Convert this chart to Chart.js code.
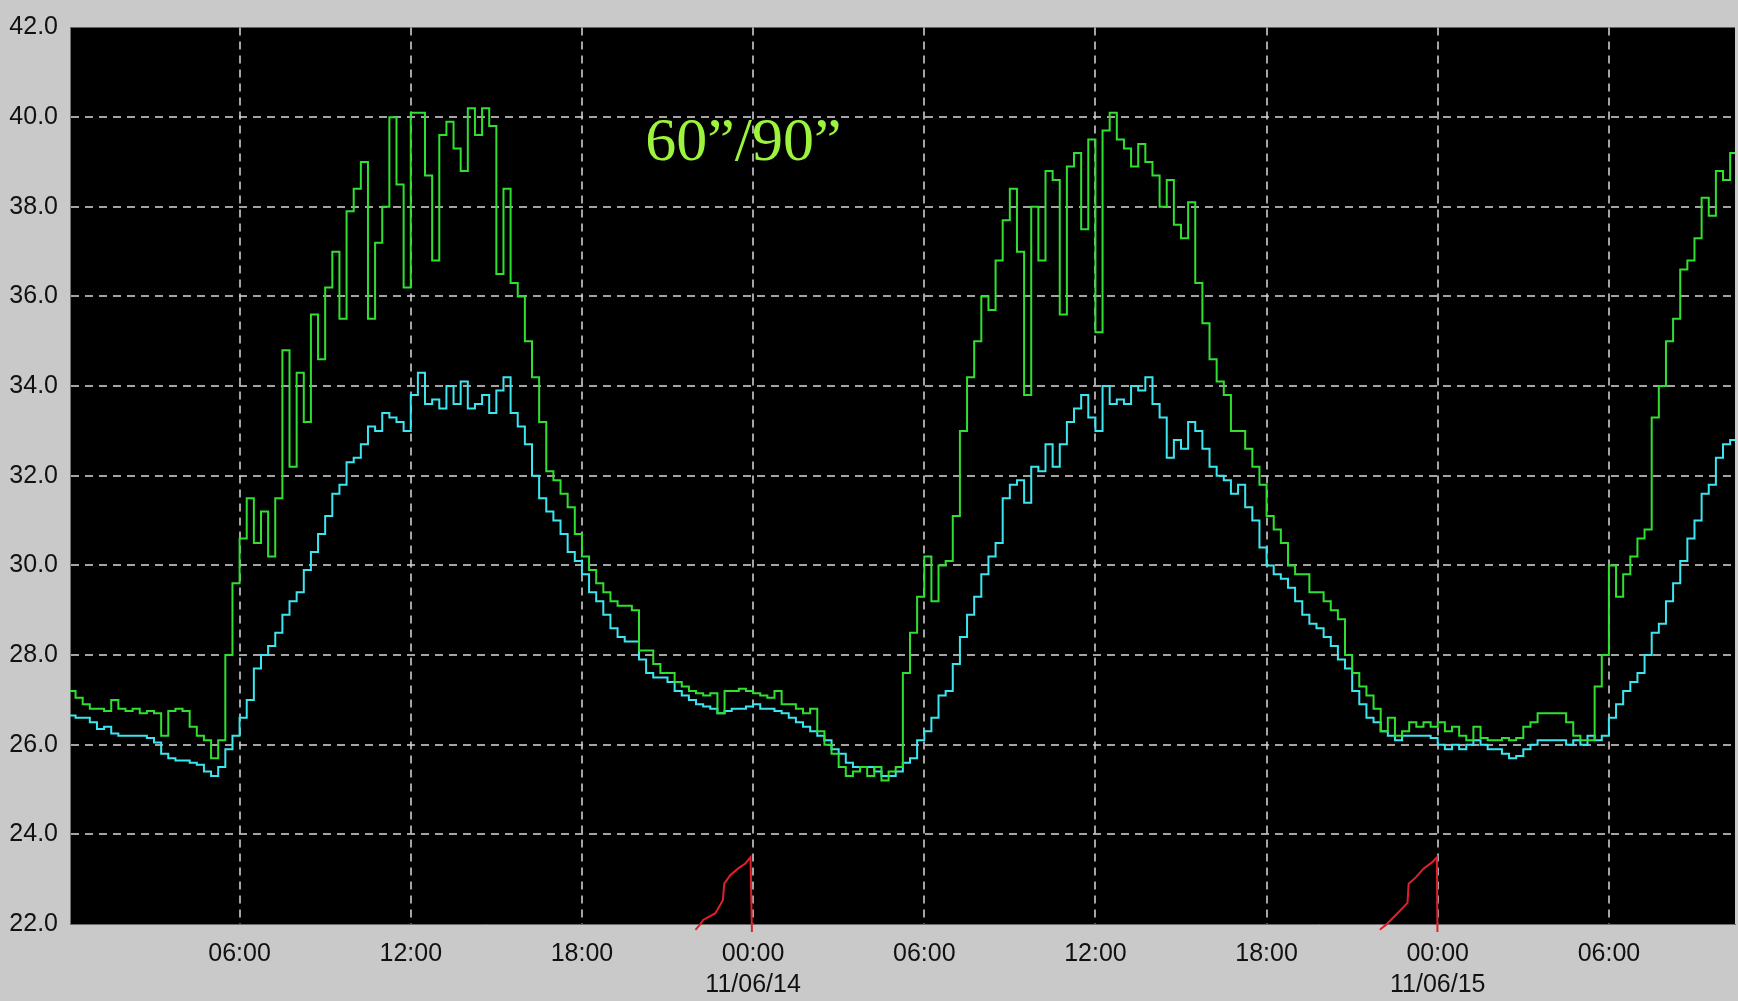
<!DOCTYPE html>
<html><head><meta charset="utf-8">
<script src="https://cdn.jsdelivr.net/npm/chart.js@4.4.1/dist/chart.umd.min.js"></script>
<style>html,body{margin:0;padding:0;background:#c9c9c9;overflow:hidden}#wrap{width:1738px;height:1001px}</style>
</head><body><div id="wrap"><canvas id="c" width="1738" height="1001"></canvas></div>
<script>
// Hours counted from 00:00 on 11/06/13; one sample every 15 minutes.
const START_HOUR = 0;
const SAMPLE_STEP_H = 0.25;

const GREEN = [
  27.3, 27.2, 27.05, 26.9,   26.8, 26.8, 26.75, 27.0,   26.8, 26.75, 26.8, 26.7,
  26.75, 26.7, 26.2, 26.75,  26.8, 26.75, 26.4, 26.2,   26.1, 25.7, 26.1, 28.0,
  29.6, 30.6, 31.5, 30.5,    31.2, 30.2, 31.5, 34.8,    32.2, 34.3, 33.2, 35.6,
  34.6, 36.2, 37.0, 35.5,    37.9, 38.4, 39.0, 35.5,    37.2, 38.0, 40.0, 38.5,
  36.2, 40.1, 40.1, 38.7,    36.8, 39.6, 39.9, 39.3,    38.8, 40.2, 39.6, 40.2,
  39.8, 36.5, 38.4, 36.3,    36.0, 35.0, 34.2, 33.2,    32.1, 31.9, 31.6, 31.3,
  30.7, 30.2, 29.9, 29.6,    29.4, 29.2, 29.1, 29.1,    29.0, 28.1, 28.1, 27.8,
  27.6, 27.6, 27.4, 27.3,    27.2, 27.15, 27.1, 27.15,  26.7, 27.2, 27.2, 27.25,
  27.2, 27.15, 27.1, 27.05,  27.2, 26.9, 26.9, 26.8,    26.7, 26.8, 26.3, 26.0,
  25.8, 25.5, 25.3, 25.4,    25.5, 25.3, 25.5, 25.2,    25.4, 25.5, 27.6, 28.5,
  29.3, 30.2, 29.2, 30.0,    30.1, 31.1, 33.0, 34.2,    35.0, 36.0, 35.7, 36.8,
  37.7, 38.4, 37.0, 33.8,    38.0, 36.8, 38.8, 38.6,    35.6, 38.9, 39.2, 37.5,
  39.5, 35.2, 39.7, 40.1,    39.5, 39.3, 38.9, 39.4,    39.0, 38.7, 38.0, 38.6,
  37.6, 37.3, 38.1, 36.3,    35.4, 34.6, 34.1, 33.8,    33.0, 33.0, 32.6, 32.2,
  31.8, 31.1, 30.8, 30.5,    30.0, 29.8, 29.8, 29.4,    29.4, 29.2, 29.0, 28.8,
  28.0, 27.6, 27.3, 27.1,    26.8, 26.3, 26.6, 26.2,    26.3, 26.5, 26.4, 26.5,
  26.4, 26.5, 26.3, 26.4,    26.2, 26.1, 26.4, 26.15,   26.1, 26.1, 26.15, 26.1,
  26.15, 26.4, 26.5, 26.7,   26.7, 26.7, 26.7, 26.5,    26.2, 26.1, 26.1, 27.3,
  28.0, 30.0, 29.3, 29.8,    30.2, 30.6, 30.8, 33.3,    34.0, 35.0, 35.5, 36.6,
  36.8, 37.3, 38.2, 37.8,    38.8, 38.6, 39.2
];

const CYAN = [
  26.7, 26.65, 26.6, 26.6,   26.5, 26.35, 26.4, 26.25,  26.2, 26.2, 26.2, 26.2,
  26.15, 26.05, 25.8, 25.7,  25.65, 25.65, 25.6, 25.55, 25.4, 25.3, 25.5, 25.9,
  26.2, 26.6, 27.0, 27.7,    28.0, 28.2, 28.5, 28.9,    29.2, 29.4, 29.9, 30.3,
  30.7, 31.1, 31.6, 31.8,    32.3, 32.4, 32.7, 33.1,    33.0, 33.4, 33.3, 33.2,
  33.0, 33.8, 34.3, 33.6,    33.7, 33.5, 34.0, 33.6,    34.1, 33.5, 33.6, 33.8,
  33.4, 33.9, 34.2, 33.4,    33.1, 32.7, 32.0, 31.5,    31.2, 31.0, 30.7, 30.3,
  30.1, 29.8, 29.4, 29.2,    28.9, 28.6, 28.4, 28.3,    28.3, 27.9, 27.6, 27.5,
  27.5, 27.4, 27.2, 27.1,    27.0, 26.9, 26.85, 26.8,   26.7, 26.75, 26.8, 26.8,
  26.85, 26.9, 26.8, 26.8,   26.75, 26.7, 26.6, 26.5,   26.4, 26.3, 26.2, 26.1,
  25.9, 25.8, 25.6, 25.5,    25.5, 25.5, 25.4, 25.3,    25.3, 25.4, 25.6, 25.7,
  26.1, 26.3, 26.6, 27.1,    27.2, 27.8, 28.4, 28.9,    29.3, 29.8, 30.2, 30.5,
  31.5, 31.8, 31.9, 31.4,    32.2, 32.1, 32.7, 32.2,    32.7, 33.2, 33.5, 33.8,
  33.3, 33.0, 34.0, 33.6,    33.7, 33.6, 34.0, 33.9,    34.2, 33.6, 33.3, 32.4,
  32.8, 32.6, 33.2, 33.0,    32.6, 32.2, 32.0, 31.9,    31.6, 31.8, 31.3, 31.0,
  30.4, 30.0, 29.8, 29.7,    29.5, 29.2, 28.9, 28.7,    28.6, 28.4, 28.2, 27.9,
  27.7, 27.2, 26.9, 26.6,    26.5, 26.3, 26.2, 26.1,    26.2, 26.2, 26.2, 26.2,
  26.15, 26.0, 25.9, 26.0,   25.9, 26.0, 26.1, 26.0,    25.9, 25.9, 25.8, 25.7,
  25.75, 25.9, 26.0, 26.1,   26.1, 26.1, 26.1, 26.0,    26.1, 26.0, 26.2, 26.1,
  26.2, 26.6, 26.9, 27.2,    27.4, 27.6, 28.0, 28.5,    28.7, 29.2, 29.6, 30.1,
  30.6, 31.0, 31.6, 31.8,    32.4, 32.7, 32.8
];

const RED_A_HOURS  = [21.98, 22.13, 22.25, 22.68, 22.94, 22.99, 23.20, 23.48, 23.73, 23.91, 23.96];
const RED_A_VALUES = [21.87, 21.98, 22.09, 22.24, 22.53, 22.90, 23.09, 23.24, 23.35, 23.49, 21.82];
const RED_B_HOURS  = [45.97, 46.18, 46.59, 46.94, 46.98, 47.23, 47.51, 47.81, 47.97, 47.99];
const RED_B_VALUES = [21.87, 21.98, 22.24, 22.47, 22.90, 23.04, 23.24, 23.38, 23.49, 21.82];

const X_TICK_HOURS = [6, 12, 18, 24, 30, 36, 42, 48, 54];
const X_TICK_LABELS = [["06:00"], ["12:00"], ["18:00"], ["00:00", "11/06/14"], ["06:00"], ["12:00"], ["18:00"], ["00:00", "11/06/15"], ["06:00"]];
const Y_TICKS = [22, 24, 26, 28, 30, 32, 34, 36, 38, 40, 42];
const TITLE_TEXT = "60\u201d/90\u201d";

const toPoints = vals => vals.map((v, i) => ({x: START_HOUR + i * SAMPLE_STEP_H, y: v}));
const pair = (hs, vs) => hs.map((h, i) => ({x: h, y: vs[i]}));

const GRID = 'rgba(205,205,205,0.8)';

const bgPlugin = {
  id: 'bg',
  beforeDraw(chart) {
    const {ctx, chartArea: a} = chart;
    ctx.save();
    ctx.fillStyle = '#c9c9c9';
    ctx.fillRect(0, 0, chart.width, chart.height);
    ctx.fillStyle = '#000';
    ctx.fillRect(a.left, a.top, a.right - a.left, a.bottom - a.top);
    ctx.restore();
  }
};
const titlePlugin = {
  id: 'label60',
  afterDatasetsDraw(chart) {
    const {ctx, chartArea: a} = chart;
    ctx.save();
    ctx.font = '62px "Liberation Serif", "DejaVu Serif", serif';
    ctx.fillStyle = '#9cf53c';
    ctx.textBaseline = 'alphabetic';
    ctx.textAlign = 'left';
    ctx.fillText(TITLE_TEXT, a.left + (a.right - a.left) * 0.3455, a.top + (a.bottom - a.top) * 0.1475);
    ctx.restore();
  }
};

const tickFont = {family: '"Liberation Sans", Arial, sans-serif', size: 25, lineHeight: 1.24};

new Chart(document.getElementById('c'), {
  type: 'line',
  data: {
    datasets: [
      {data: toPoints(GREEN), borderColor: '#30e030', borderWidth: 2, stepped: 'after', pointRadius: 0},
      {data: toPoints(CYAN), borderColor: '#3ce6f0', borderWidth: 2, stepped: 'after', pointRadius: 0},
      {data: pair(RED_A_HOURS, RED_A_VALUES), borderColor: '#e0202a', borderWidth: 2, pointRadius: 0, clip: false},
      {data: pair(RED_B_HOURS, RED_B_VALUES), borderColor: '#e0202a', borderWidth: 2, pointRadius: 0, clip: false}
    ]
  },
  options: {
    responsive: false,
    animation: false,
    events: [],
    layout: {padding: {left: 0, right: 3, top: 22, bottom: 0}},
    plugins: {legend: {display: false}, tooltip: {enabled: false}, title: {display: false}},
    scales: {
      x: {
        type: 'linear', min: 0.055, max: 58.42,
        afterBuildTicks: s => { s.ticks = X_TICK_HOURS.map(v => ({value: v})); },
        afterFit: s => { s.height = 77; },
        grid: {color: GRID, lineWidth: 2, drawTicks: false},
        border: {display: true, color: '#6e6e6e', width: 1, dash: [8, 6]},
        ticks: {padding: 15, color: '#111', font: tickFont, maxRotation: 0, autoSkip: false,
                callback: (v, i) => X_TICK_LABELS[i]}
      },
      y: {
        min: 22, max: 42,
        afterBuildTicks: s => { s.ticks = Y_TICKS.map(v => ({value: v})); },
        afterFit: s => { s.width = 70; },
        grid: {color: c => (c.tick && (c.tick.value === 22 || c.tick.value === 42)) ? 'rgba(0,0,0,0)' : GRID,
               lineWidth: 2, drawTicks: false},
        border: {display: true, color: '#6e6e6e', width: 1, dash: [8, 6]},
        ticks: {padding: 12, color: '#111', font: tickFont, callback: v => Number(v).toFixed(1)}
      }
    }
  },
  plugins: [bgPlugin, titlePlugin]
});
</script></body></html>
